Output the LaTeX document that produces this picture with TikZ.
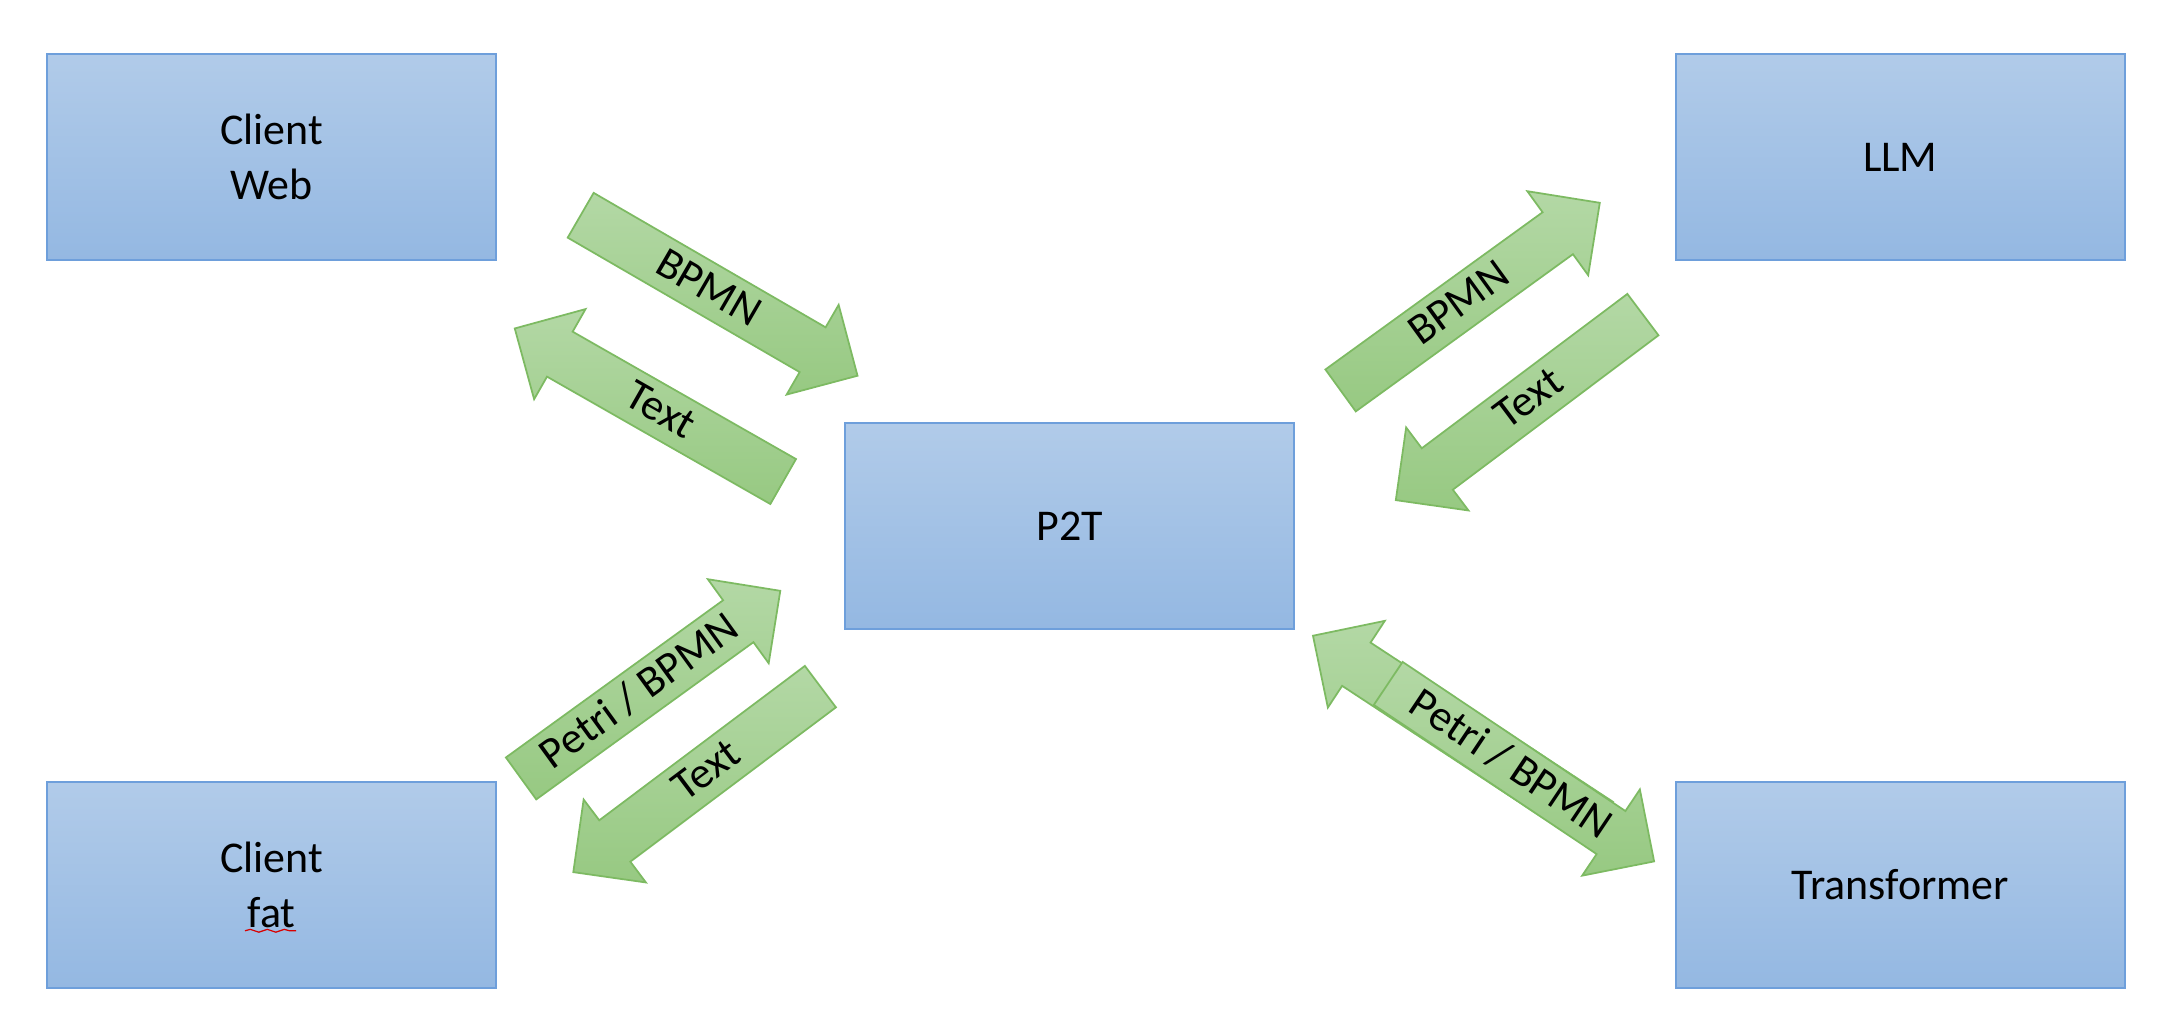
\documentclass[tikz,border=0pt]{standalone}
\usepackage{fontspec}
\setmainfont{Carlito}
\usepackage{tikz}
\usetikzlibrary{positioning, shapes.arrows, decorations.pathmorphing}
\definecolor{box_top}{HTML}{B1CBE9}
\definecolor{box_bottom}{HTML}{94B8E2}
\definecolor{box_border}{HTML}{6E9FDB}
\definecolor{arrow_top}{HTML}{B3D8A5}
\definecolor{arrow_bottom}{HTML}{97C982}
\definecolor{arrow_border}{HTML}{7DBA62}

\begin{document}
\begin{tikzpicture}[
    % --- Global Settings ---
    % Default gap between the boxes
    node distance = 1.2cm,
    % Same font for every node
    every node/.style={font=\fontsize{12.5pt}{15.5pt}\selectfont}
  ]

  % --- Style Definitions ---
  \tikzset{
    % Blue boxes with a vertical gradient
    block/.style={
      draw=box_border,
      line width=0.5pt,
      top color=box_top,
      bottom color=box_bottom,
      minimum width=4.49cm,
      minimum height=2.06cm,
      inner sep=0pt,
      align=center
    },
    % Green block arrows carrying a label
    flow/.style={
      single arrow,
      draw=arrow_border,
      line width=0.5pt,
      top color=arrow_top,
      bottom color=arrow_bottom,
      minimum height=3.2cm,
      single arrow head extend=0.26cm,
      text height=0.31cm,
      text depth=0.07cm,
      inner ysep=0.06cm,
      inner xsep=0pt
    },
    % Arrow that points back, label kept readable
    back/.style={
      shape border rotate=180
    },
    % Red wavy line of the spell checker
    spellcheck/.style={
      draw=red!85!black,
      line width=0.35pt,
      decorate,
      decoration={snake, amplitude=0.4pt, segment length=1.7mm}
    }
  }

  \useasboundingbox (0,0) rectangle (21.77,-10.33);

  % --- Node Placement ---
  % Client web in the top left corner
  \node[block] (web) at (2.715,-1.57) {Client\\Web};

  % LLM in the top right corner
  \node[block] (llm) [right=11.78cm of web] {LLM};

  % P2T in the middle
  \node[block] (p2t) at (10.695,-5.26) {P2T};

  % Fat client and transformer along the bottom
  \node[block] (fat) [below=5.2cm of web] {Client\\fat};
  \node[block] (trans) [below=5.2cm of llm] {Transformer};

  % --- Block Arrows ---
  % Between the web client and P2T
  \node[flow, rotate=-30.1] (bpmn_web) at (7.079,-2.89) {BPMN};
  \node[flow, back, rotate=-29.7, minimum height=3.09cm] (text_web) at (6.602,-4.114) {Text};

  % Between P2T and the LLM
  \node[flow, rotate=35.9] (bpmn_llm) at (14.597,-3.042) {BPMN};
  \node[flow, back, rotate=36.9, minimum height=3.09cm] (text_llm) at (15.297,-3.996) {Text};

  % Between the fat client and P2T
  \node[flow, rotate=35.9] (petri_fat) at (6.402,-6.922) {Petri / BPMN};
  \node[flow, back, rotate=36.9, minimum height=3.09cm] (text_fat) at (7.072,-7.716) {Text};

  % Between P2T and the transformer (two arrows on top of each other)
  \node[flow, back, rotate=-33.3, minimum height=3.42cm] (petri_back) at (14.667,-7.367) {};
  \node[flow, rotate=-33.8] (petri_trans) at (15.104,-7.652) {Petri / BPMN};

  % Spell check mark under "fat"
  \draw[spellcheck] ([xshift=-0.265cm, yshift=-0.46cm]fat.center) -- ++(0.51,0);

\end{tikzpicture}
\end{document}
